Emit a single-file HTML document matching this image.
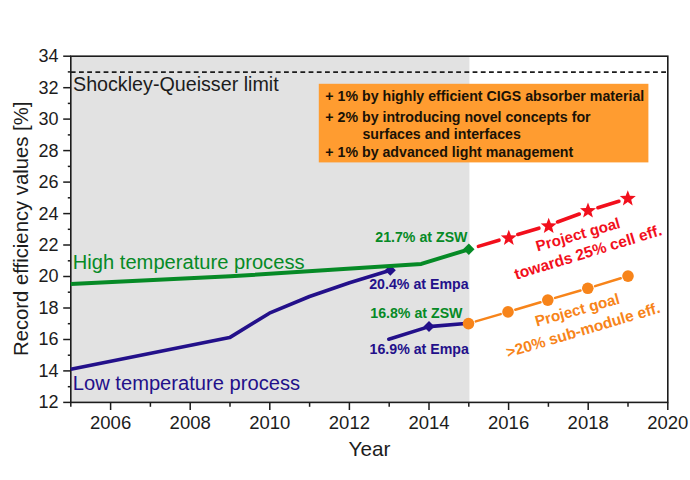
<!DOCTYPE html>
<html><head><meta charset="utf-8"><title>Record efficiency values</title>
<style>html,body{margin:0;padding:0;background:#fff;}body{width:690px;height:480px;overflow:hidden;}svg{display:block;}text{font-family:"Liberation Sans",Arial,sans-serif;}</style>
</head><body>
<svg width="690" height="480" viewBox="0 0 690 480">
<rect x="0" y="0" width="690" height="480" fill="#ffffff"/>
<rect x="70.8" y="56.2" width="398.6" height="346.2" fill="#e2e2e2"/>
<rect x="318.8" y="83.8" width="329.6" height="78.6" fill="#ff9c30"/>
<line x1="70.8" y1="72.2" x2="667.8" y2="72.2" stroke="#1c1c1c" stroke-width="1.8" stroke-dasharray="4.8 3.4"/>
<rect x="70.8" y="56.2" width="597.0" height="346.2" fill="none" stroke="#1c1c1c" stroke-width="1.6"/>
<g stroke="#1c1c1c" stroke-width="1.5">
<line x1="63.2" y1="402.4" x2="70.8" y2="402.4"/>
<line x1="67.8" y1="386.7" x2="70.8" y2="386.7"/>
<line x1="63.2" y1="370.9" x2="70.8" y2="370.9"/>
<line x1="67.8" y1="355.2" x2="70.8" y2="355.2"/>
<line x1="63.2" y1="339.5" x2="70.8" y2="339.5"/>
<line x1="67.8" y1="323.7" x2="70.8" y2="323.7"/>
<line x1="63.2" y1="308.0" x2="70.8" y2="308.0"/>
<line x1="67.8" y1="292.2" x2="70.8" y2="292.2"/>
<line x1="63.2" y1="276.5" x2="70.8" y2="276.5"/>
<line x1="67.8" y1="260.8" x2="70.8" y2="260.8"/>
<line x1="63.2" y1="245.0" x2="70.8" y2="245.0"/>
<line x1="67.8" y1="229.3" x2="70.8" y2="229.3"/>
<line x1="63.2" y1="213.6" x2="70.8" y2="213.6"/>
<line x1="67.8" y1="197.8" x2="70.8" y2="197.8"/>
<line x1="63.2" y1="182.1" x2="70.8" y2="182.1"/>
<line x1="67.8" y1="166.4" x2="70.8" y2="166.4"/>
<line x1="63.2" y1="150.6" x2="70.8" y2="150.6"/>
<line x1="67.8" y1="134.9" x2="70.8" y2="134.9"/>
<line x1="63.2" y1="119.1" x2="70.8" y2="119.1"/>
<line x1="67.8" y1="103.4" x2="70.8" y2="103.4"/>
<line x1="63.2" y1="87.7" x2="70.8" y2="87.7"/>
<line x1="67.8" y1="71.9" x2="70.8" y2="71.9"/>
<line x1="63.2" y1="56.2" x2="70.8" y2="56.2"/>
<line x1="70.8" y1="402.4" x2="70.8" y2="406.8"/>
<line x1="110.6" y1="402.4" x2="110.6" y2="410"/>
<line x1="150.4" y1="402.4" x2="150.4" y2="406.8"/>
<line x1="190.2" y1="402.4" x2="190.2" y2="410"/>
<line x1="230.0" y1="402.4" x2="230.0" y2="406.8"/>
<line x1="269.8" y1="402.4" x2="269.8" y2="410"/>
<line x1="309.6" y1="402.4" x2="309.6" y2="406.8"/>
<line x1="349.4" y1="402.4" x2="349.4" y2="410"/>
<line x1="389.2" y1="402.4" x2="389.2" y2="406.8"/>
<line x1="429.0" y1="402.4" x2="429.0" y2="410"/>
<line x1="468.8" y1="402.4" x2="468.8" y2="406.8"/>
<line x1="508.6" y1="402.4" x2="508.6" y2="410"/>
<line x1="548.4" y1="402.4" x2="548.4" y2="406.8"/>
<line x1="588.2" y1="402.4" x2="588.2" y2="410"/>
<line x1="628.0" y1="402.4" x2="628.0" y2="406.8"/>
<line x1="667.8" y1="402.4" x2="667.8" y2="410"/>
</g>
<g font-size="18" fill="#1c1c1c">
<text x="58.6" y="408.3" text-anchor="end">12</text>
<text x="58.6" y="376.8" text-anchor="end">14</text>
<text x="58.6" y="345.4" text-anchor="end">16</text>
<text x="58.6" y="313.9" text-anchor="end">18</text>
<text x="58.6" y="282.4" text-anchor="end">20</text>
<text x="58.6" y="250.9" text-anchor="end">22</text>
<text x="58.6" y="219.5" text-anchor="end">24</text>
<text x="58.6" y="188.0" text-anchor="end">26</text>
<text x="58.6" y="156.5" text-anchor="end">28</text>
<text x="58.6" y="125.0" text-anchor="end">30</text>
<text x="58.6" y="93.6" text-anchor="end">32</text>
<text x="58.6" y="62.1" text-anchor="end">34</text>
<text x="110.6" y="428.6" font-size="18.5" text-anchor="middle">2006</text>
<text x="190.2" y="428.6" font-size="18.5" text-anchor="middle">2008</text>
<text x="269.8" y="428.6" font-size="18.5" text-anchor="middle">2010</text>
<text x="349.4" y="428.6" font-size="18.5" text-anchor="middle">2012</text>
<text x="429.0" y="428.6" font-size="18.5" text-anchor="middle">2014</text>
<text x="508.6" y="428.6" font-size="18.5" text-anchor="middle">2016</text>
<text x="588.2" y="428.6" font-size="18.5" text-anchor="middle">2018</text>
<text x="667.8" y="428.6" font-size="18.5" text-anchor="middle">2020</text>
</g>
<text x="369.5" y="455.8" font-size="20.7" fill="#1c1c1c" text-anchor="middle">Year</text>
<text transform="translate(28.4 228.8) rotate(-90)" font-size="20.3" fill="#1c1c1c" text-anchor="middle">Record efficiency values [%]</text>
<text x="73.0" y="90.9" font-size="19.7" fill="#1c1c1c">Shockley-Queisser limit</text>
<g font-size="14.2" font-weight="bold" fill="#1a1206">
<text x="325.3" y="101.2">+ 1% by highly efficient CIGS absorber material</text>
<text x="325.3" y="121.5">+ 2% by introducing novel concepts for</text>
<text x="362.4" y="139.2">surfaces and interfaces</text>
<text x="325.3" y="157.3">+ 1% by advanced light management</text>
</g>
<polyline fill="none" stroke="#23108a" stroke-width="3.6" stroke-linejoin="round" points="70.8,369.3 229.6,337.6 269.4,313.2 309.5,296.5 349.5,282.7 390.3,270.3"/>
<polyline fill="none" stroke="#23108a" stroke-width="3.6" stroke-linejoin="round" stroke-linecap="round" points="388.8,339.2 429.0,326.6 468.5,323.3"/>
<path d="M384.8 270.3L390.3 264.8L395.8 270.3L390.3 275.8Z" fill="#23108a"/>
<path d="M423.5 326.6L429.0 321.1L434.5 326.6L429.0 332.1Z" fill="#23108a"/>
<polyline fill="none" stroke="#068a26" stroke-width="4" stroke-linejoin="round" points="70.8,284.0 230.3,276.3 421.3,263.9 468.8,249.3"/>
<g stroke="#f20f1c" stroke-width="3.6" stroke-linecap="round"><line x1="478.4" y1="246.4" x2="499.0" y2="240.2"/><line x1="517.8" y1="234.5" x2="538.9" y2="228.2"/><line x1="557.5" y1="222.0" x2="579.3" y2="214.0"/><line x1="597.9" y1="207.7" x2="618.9" y2="201.3"/></g>
<polygon points="508.8,229.7 510.9,235.2 516.8,235.5 512.2,239.2 513.7,244.9 508.8,241.6 503.9,244.9 505.4,239.2 500.8,235.5 506.7,235.2" fill="#f20f1c"/>
<polygon points="548.7,217.8 550.8,223.3 556.7,223.6 552.1,227.3 553.6,233.0 548.7,229.7 543.8,233.0 545.3,227.3 540.7,223.6 546.6,223.3" fill="#f20f1c"/>
<polygon points="588.0,202.4 590.1,207.9 596.0,208.2 591.4,211.9 592.9,217.6 588.0,214.3 583.1,217.6 584.6,211.9 580.0,208.2 585.9,207.9" fill="#f20f1c"/>
<polygon points="627.8,190.2 629.9,195.7 635.8,196.0 631.2,199.7 632.7,205.4 627.8,202.1 622.9,205.4 624.4,199.7 619.8,196.0 625.7,195.7" fill="#f20f1c"/>
<path d="M463.1 249.3L468.8 243.6L474.5 249.3L468.8 255.0Z" fill="#068a26"/>
<g stroke="#f7841a" stroke-width="2.5" stroke-linecap="round"><line x1="475.8" y1="321.4" x2="500.7" y2="314.1"/><line x1="515.3" y1="309.7" x2="540.5" y2="302.3"/><line x1="555.1" y1="297.9" x2="580.5" y2="290.5"/><line x1="595.1" y1="286.1" x2="620.7" y2="278.3"/></g>
<circle cx="468.5" cy="323.6" r="5.8" fill="#f7841a"/>
<circle cx="508.0" cy="311.9" r="5.8" fill="#f7841a"/>
<circle cx="547.8" cy="300.1" r="5.8" fill="#f7841a"/>
<circle cx="587.8" cy="288.3" r="5.8" fill="#f7841a"/>
<circle cx="628.0" cy="276.1" r="5.8" fill="#f7841a"/>
<text x="72.8" y="269.4" font-size="20.15" fill="#068a26">High temperature process</text>
<text x="72.8" y="389.7" font-size="20.15" fill="#23108a">Low temperature process</text>
<g font-size="14.2" font-weight="bold">
<text x="467.5" y="241.5" text-anchor="end" fill="#068a26">21.7% at ZSW</text>
<text x="468.6" y="289.1" text-anchor="end" fill="#23108a">20.4% at Empa</text>
<text x="462.5" y="317.5" text-anchor="end" fill="#068a26">16.8% at ZSW</text>
<text x="468.9" y="354.3" text-anchor="end" fill="#23108a">16.9% at Empa</text>
</g>
<g font-size="15.2" font-weight="bold" text-anchor="middle" fill="#f20f1c">
<text transform="translate(579.4 239.6) rotate(-16)">Project goal</text>
<text font-size="15.6" transform="translate(589.6 257.2) rotate(-17)">towards 25% cell eff.</text>
</g>
<g font-size="15.2" font-weight="bold" text-anchor="middle" fill="#f7841a">
<text transform="translate(578.6 315) rotate(-15.5)">Project goal</text>
<text font-size="15.5" transform="translate(584.6 335) rotate(-16.5)">&gt;20% sub-module eff.</text>
</g>
</svg>
</body></html>
